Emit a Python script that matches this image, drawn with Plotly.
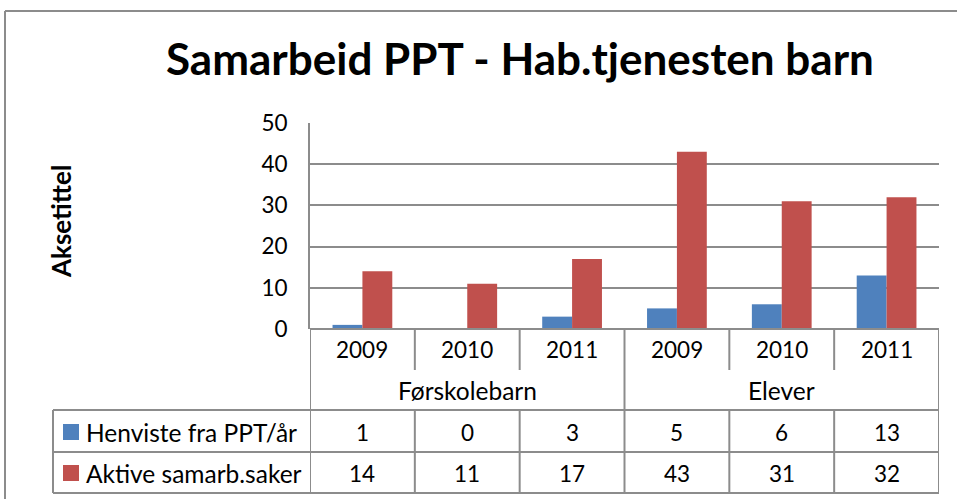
import plotly.graph_objects as go

years = ["2009", "2010", "2011", "2009", "2010", "2011"]
groups = ["Førskolebarn", "Elever"]
group_sizes = [3, 3]
series_names = ["Henviste fra PPT/år", "Aktive samarb.saker"]
henviste = [1, 0, 3, 5, 6, 13]
aktive = [14, 11, 17, 43, 31, 32]
colors = ["#4F81BD", "#C0504D"]
title_text = "Samarbeid PPT - Hab.tjenesten barn"
y_title = "Aksetittel"
y_ticks = [0, 10, 20, 30, 40, 50]

FONT = "Lato"
GRID = "#8c8c8c"
W, H = 957, 499
L, R, T, B = 310, 18, 123, 170
PH = H - T - B
PW = W - L - R

def py(ypx):
    return (H - B - ypx) / PH

def px(xpx):
    return (xpx - L) / PW

n = len(years)
xs = list(range(n))

fig = go.Figure()
for name, vals, col in zip(series_names, [henviste, aktive], colors):
    fig.add_trace(go.Bar(x=xs, y=vals, name=name, marker=dict(color=col, line=dict(width=0)),
                         showlegend=False))

shapes = []
line = dict(color=GRID, width=2)

# outer chart border
shapes.append(dict(type="line", xref="paper", yref="paper", x0=px(5), x1=px(960), y0=py(11), y1=py(11), line=line))
shapes.append(dict(type="line", xref="paper", yref="paper", x0=px(5), x1=px(5), y0=py(11), y1=py(505), line=line))

# axis line (x) at zero
shapes.append(dict(type="line", xref="x", yref="paper", x0=-0.5, x1=n - 0.5, y0=0, y1=0, line=line))

# year row separators
for k in range(n + 1):
    shapes.append(dict(type="line", xref="x", yref="paper", x0=k - 0.5, x1=k - 0.5, y0=0, y1=py(370), line=line))
# group separators through group row
bounds = [0]
for s in group_sizes:
    bounds.append(bounds[-1] + s)
for b in bounds:
    shapes.append(dict(type="line", xref="x", yref="paper", x0=b - 0.5, x1=b - 0.5, y0=py(370), y1=py(410), line=line))
# data table rows
row_lines = [410, 452, 493]
for r in row_lines:
    shapes.append(dict(type="line", xref="paper", yref="paper", x0=px(53), x1=1, y0=py(r), y1=py(r), line=line))
shapes.append(dict(type="line", xref="paper", yref="paper", x0=px(53), x1=px(53), y0=py(410), y1=py(493), line=line))
for k in range(n + 1):
    shapes.append(dict(type="line", xref="x", yref="paper", x0=k - 0.5, x1=k - 0.5, y0=py(410), y1=py(493), line=line))

# legend keys
row_centers = [432, 473]
for rc, col in zip(row_centers, colors):
    shapes.append(dict(type="rect", xref="paper", yref="paper", x0=px(63), x1=px(79),
                       y0=py(rc - 8), y1=py(rc + 8), fillcolor=col, line=dict(width=0)))

ann = []
fs_num = 22.5
fs_txt = 24.5
def txt(x, y, text, size, xref="x", xanchor="center", **kw):
    return dict(x=x, y=y, xref=xref, yref="paper", text=text, showarrow=False,
                xanchor=xanchor, yanchor="middle",
                font=dict(family=FONT, size=size, color="black"), **kw)

for i, yr in enumerate(years):
    ann.append(txt(i, py(349), yr, fs_num))
for g, s0, s in zip(groups, bounds[:-1], group_sizes):
    ann.append(txt(s0 + (s - 1) / 2, py(390), g, fs_txt))
for rc, vals, name in zip(row_centers, [henviste, aktive], series_names):
    for i, v in enumerate(vals):
        ann.append(txt(i, py(rc), str(v), fs_num))
    ann.append(txt(px(84), py(rc), name, fs_txt, xref="paper", xanchor="left"))

ann.append(txt(px(61), py(222), "<b>" + y_title + "</b>", 26, xref="paper", textangle=-90))
ann.append(txt(px(520), py(58), "<b>" + title_text + "</b>", 44, xref="paper"))

fig.update_layout(
    width=W, height=H,
    margin=dict(l=L, r=R, t=T, b=B),
    paper_bgcolor="white", plot_bgcolor="white",
    barmode="group", bargap=0.43, bargroupgap=0,
    shapes=shapes, annotations=ann,
    xaxis=dict(range=[-0.5, n - 0.5], showticklabels=False, showgrid=False, zeroline=False,
               ticks="", showline=False, fixedrange=True),
    yaxis=dict(range=[0, 50], tickvals=y_ticks, showgrid=True, gridcolor=GRID, gridwidth=2,
               zeroline=False, showline=True, linecolor=GRID, linewidth=2,
               ticks="outside", ticklen=16, tickcolor="rgba(0,0,0,0)",
               tickfont=dict(family=FONT, size=fs_num, color="black"), fixedrange=True),
    showlegend=False,
)

fig.write_html("out.html", config={"displayModeBar": False},
               post_script="document.body.style.margin='0px';")
